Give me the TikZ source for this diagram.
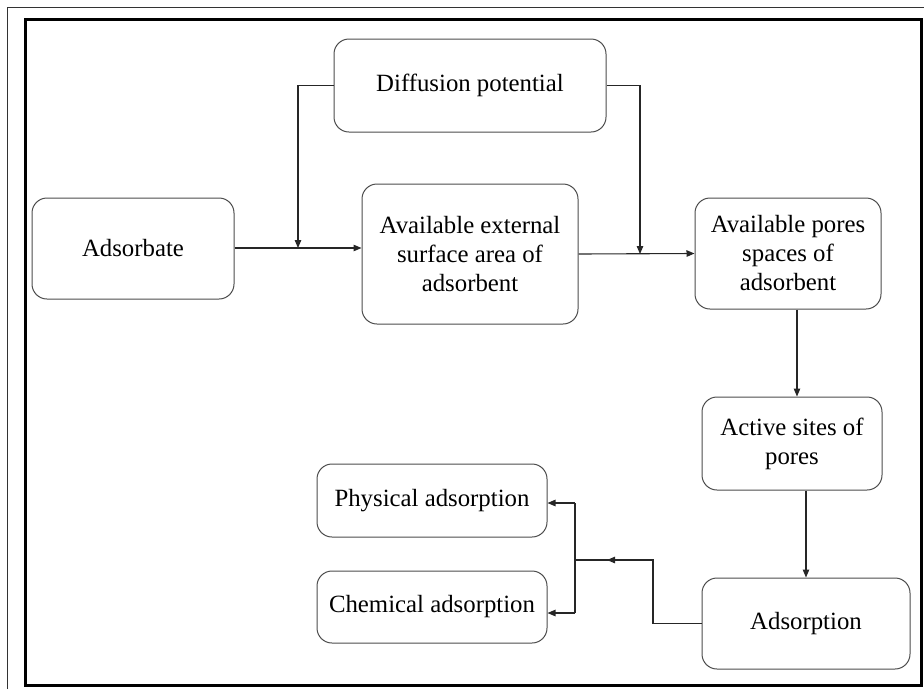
\documentclass[tikz,border=0pt]{standalone}
\usepackage{fontspec}
\setmainfont{Liberation Serif}
\usetikzlibrary{arrows.meta}

\begin{document}
\begin{tikzpicture}[x=1pt, y=-1pt]
  \tikzset{
    box_node/.style={rectangle, rounded corners=15pt, draw=black!70, line width=1pt, align=center, inner sep=2pt, font=\fontsize{24.8}{29}\selectfont},
    flow_arrow/.style={draw=black!85, line width=1.1pt, -{Triangle[length=8pt, width=6.5pt]}},
    flow_line/.style={draw=black!85, line width=1.1pt}
  }

  % Marco de la figura
  \useasboundingbox (0,0) rectangle (924,689);
  \draw[black!80, line width=1pt] (7,689) -- (7,7) -- (924,7);
  \draw[black, line width=3pt] (25,19) rectangle (921,685);

  % Cajas superiores
  \node[box_node, minimum width=272pt, minimum height=93pt] (diff) at (470,85.5) {Diffusion potential};
  \node[box_node, minimum width=202pt, minimum height=101pt] (adsb) at (133,248.5) {Adsorbate};
  \node[box_node, minimum width=216pt, minimum height=140pt] (ext) at (470,254) {Available external\\surface area of\\adsorbent};
  \node[box_node, minimum width=186pt, minimum height=111pt] (pores) at (788,253.5) {Available pores\\spaces of\\adsorbent};

  % Cajas inferiores
  \node[box_node, minimum width=180pt, minimum height=93pt] (active) at (792,443.5) {Active sites of\\pores};
  \node[box_node, minimum width=208pt, minimum height=91pt] (ads) at (806,623.5) {Adsorption};
  \node[box_node, minimum width=230pt, minimum height=73pt] (phys) at (432,500.5) {Physical adsorption};
  \node[box_node, minimum width=230pt, minimum height=72pt] (chem) at (432,607) {Chemical adsorption};

  % Puntos de union
  \coordinate (j1) at (298,248);
  \coordinate (j2) at (640,254);
  \coordinate (bend) at (653,560);
  \coordinate (mid) at (607,560);
  \coordinate (split) at (575,560);
  \coordinate (top) at (575,503);
  \coordinate (bot) at (575,613);

  % Flechas de la fila superior
  \draw[flow_arrow] (adsb.east |- j1) -- (ext.west |- j1);
  \draw[flow_arrow] (diff.west) -| (j1);
  \draw[flow_arrow] (ext.east) -- (pores.west);
  \draw[flow_arrow] (diff.east) -| (j2);

  % Flechas verticales
  \draw[flow_arrow] ([xshift=9pt]pores.south) -- ([xshift=9pt]pores.south |- active.north);
  \draw[flow_arrow] (ads.north |- active.south) -- (ads.north);

  % Ramas hacia los tipos de adsorcion
  \draw[flow_line] (ads.west) -| (bend) -- (split);
  \draw[flow_arrow] (bend) -- (mid);
  \draw[flow_line] (top) -- (bot);
  \draw[flow_arrow] (top) -- (top -| phys.east);
  \draw[flow_arrow] (bot) -- (bot -| chem.east);
\end{tikzpicture}
\end{document}
